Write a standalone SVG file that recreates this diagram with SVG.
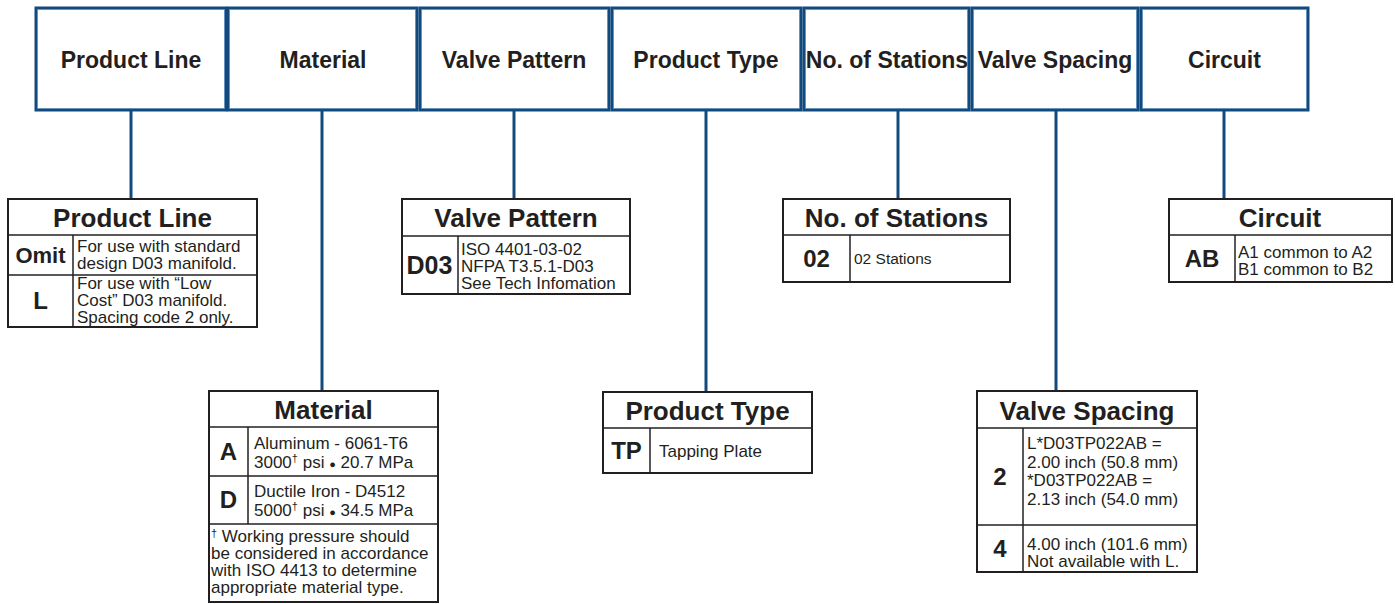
<svg xmlns="http://www.w3.org/2000/svg" width="1395" height="604" viewBox="0 0 1395 604">
<defs>
<style>
text{font-family:"Liberation Sans",Arial,sans-serif;fill:#231f20}
.hb{fill:#fff;stroke:#124a7e;stroke-width:3}
.hi{fill:none;stroke:#5f8fbf;stroke-width:0.8}
.ht{font-size:23px;font-weight:bold;text-anchor:middle}
.bx{fill:#fff;stroke:#231f20;stroke-width:2}
.sep{stroke:#231f20;stroke-width:1.5;fill:none}
.tt{font-size:26px;font-weight:bold;text-anchor:middle}
.cd{font-size:24px;font-weight:bold;text-anchor:middle}
.ds{font-size:17px}
.sup{font-size:11px}
.stem{stroke:#124a7e;stroke-width:3;fill:none}
</style>
</defs>
<rect width="1395" height="604" fill="#fff"/>

<g id="connectors">
<line class="stem" x1="131" y1="110" x2="131" y2="199"/>
<line class="stem" x1="322" y1="110" x2="322" y2="391"/>
<line class="stem" x1="514" y1="110" x2="514" y2="199"/>
<line class="stem" x1="706" y1="110" x2="706" y2="392"/>
<line class="stem" x1="898" y1="110" x2="898" y2="199"/>
<line class="stem" x1="1056" y1="110" x2="1056" y2="391"/>
<line class="stem" x1="1224" y1="110" x2="1224" y2="199"/>
</g>

<g id="h-product-line">
<rect class="hb" x="36" y="8" width="190" height="102"/><rect class="hi" x="37.5" y="9.5" width="187" height="99"/>
<text class="ht" x="131" y="68">Product Line</text>
</g>
<g id="h-material">
<rect class="hb" x="228" y="8" width="189" height="102"/><rect class="hi" x="229.5" y="9.5" width="186" height="99"/>
<text class="ht" x="323" y="68">Material</text>
</g>
<g id="h-valve-pattern">
<rect class="hb" x="420" y="8" width="189" height="102"/><rect class="hi" x="421.5" y="9.5" width="186" height="99"/>
<text class="ht" x="514" y="68">Valve Pattern</text>
</g>
<g id="h-product-type">
<rect class="hb" x="612" y="8" width="189" height="102"/><rect class="hi" x="613.5" y="9.5" width="186" height="99"/>
<text class="ht" x="706" y="68">Product Type</text>
</g>
<g id="h-stations">
<rect class="hb" x="804" y="8" width="165" height="102"/><rect class="hi" x="805.5" y="9.5" width="162" height="99"/>
<text class="ht" x="887" y="68">No. of Stations</text>
</g>
<g id="h-valve-spacing">
<rect class="hb" x="972" y="8" width="166" height="102"/><rect class="hi" x="973.5" y="9.5" width="163" height="99"/>
<text class="ht" x="1055" y="68">Valve Spacing</text>
</g>
<g id="h-circuit">
<rect class="hb" x="1141" y="8" width="167" height="102"/><rect class="hi" x="1142.5" y="9.5" width="164" height="99"/>
<text class="ht" x="1224.5" y="68">Circuit</text>
</g>

<g id="product-line">
<rect class="bx" x="8" y="199" width="249" height="128"/>
<line class="sep" x1="8" y1="235" x2="257" y2="235"/>
<line class="sep" x1="8" y1="275" x2="257" y2="275"/>
<line class="sep" x1="73" y1="235" x2="73" y2="327"/>
<text class="tt" x="132.5" y="227">Product Line</text>
<text class="cd" x="40.5" y="263" style="font-size:22px">Omit</text>
<text class="ds" x="77" y="252">For use with standard</text>
<text class="ds" x="77" y="269">design D03 manifold.</text>
<text class="cd" x="40.5" y="309">L</text>
<text class="ds" x="77" y="289">For use with “Low</text>
<text class="ds" x="77" y="306">Cost” D03 manifold.</text>
<text class="ds" x="77" y="323">Spacing code 2 only.</text>
</g>

<g id="material">
<rect class="bx" x="209" y="391" width="229" height="211"/>
<line class="sep" x1="209" y1="427" x2="438" y2="427"/>
<line class="sep" x1="209" y1="476" x2="438" y2="476"/>
<line class="sep" x1="209" y1="524" x2="438" y2="524"/>
<line class="sep" x1="248" y1="427" x2="248" y2="524"/>
<text class="tt" x="323.5" y="419">Material</text>
<text class="cd" x="228.5" y="460">A</text>
<text class="ds" x="254" y="449">Aluminum - 6061-T6</text>
<text class="ds" x="254" y="468">3000<tspan class="sup" dy="-6">†</tspan><tspan dy="6"> psi </tspan><tspan style="font-size:11px">●</tspan><tspan> 20.7 MPa</tspan></text>
<text class="cd" x="228.5" y="508">D</text>
<text class="ds" x="254" y="497">Ductile Iron - D4512</text>
<text class="ds" x="254" y="516">5000<tspan class="sup" dy="-6">†</tspan><tspan dy="6"> psi </tspan><tspan style="font-size:11px">●</tspan><tspan> 34.5 MPa</tspan></text>
<text class="ds" x="211" y="542"><tspan class="sup" dy="-5">†</tspan><tspan dy="5"> Working pressure should</tspan></text>
<text class="ds" x="211" y="559">be considered in accordance</text>
<text class="ds" x="211" y="576">with ISO 4413 to determine</text>
<text class="ds" x="211" y="593">appropriate material type.</text>
</g>

<g id="valve-pattern">
<rect class="bx" x="402" y="199" width="228" height="95"/>
<line class="sep" x1="402" y1="236" x2="630" y2="236"/>
<line class="sep" x1="458" y1="236" x2="458" y2="294"/>
<text class="tt" x="516" y="227">Valve Pattern</text>
<text class="cd" x="429.5" y="274" style="font-size:25px">D03</text>
<text class="ds" x="461" y="255">ISO 4401-03-02</text>
<text class="ds" x="461" y="272">NFPA T3.5.1-D03</text>
<text class="ds" x="461" y="289">See Tech Infomation</text>
</g>

<g id="product-type">
<rect class="bx" x="603" y="392" width="209" height="81"/>
<line class="sep" x1="603" y1="428" x2="812" y2="428"/>
<line class="sep" x1="650" y1="428" x2="650" y2="473"/>
<text class="tt" x="707.5" y="420">Product Type</text>
<text class="cd" x="626.5" y="459">TP</text>
<text class="ds" x="659" y="457">Tapping Plate</text>
</g>

<g id="stations">
<rect class="bx" x="783" y="199" width="227" height="83"/>
<line class="sep" x1="783" y1="235" x2="1010" y2="235"/>
<line class="sep" x1="850" y1="235" x2="850" y2="282"/>
<text class="tt" x="896.5" y="227">No. of Stations</text>
<text class="cd" x="816.5" y="267">02</text>
<text class="ds" x="854" y="264" style="font-size:15.5px">02 Stations</text>
</g>

<g id="valve-spacing">
<rect class="bx" x="977" y="391" width="220" height="181"/>
<line class="sep" x1="977" y1="428" x2="1197" y2="428"/>
<line class="sep" x1="977" y1="525" x2="1197" y2="525"/>
<line class="sep" x1="1023" y1="428" x2="1023" y2="572"/>
<text class="tt" x="1087" y="420">Valve Spacing</text>
<text class="cd" x="1000" y="485">2</text>
<text class="ds" x="1027" y="449">L*D03TP022AB =</text>
<text class="ds" x="1027" y="467.5">2.00 inch (50.8 mm)</text>
<text class="ds" x="1027" y="486">*D03TP022AB =</text>
<text class="ds" x="1027" y="504.5">2.13 inch (54.0 mm)</text>
<text class="cd" x="1000" y="557">4</text>
<text class="ds" x="1027" y="550">4.00 inch (101.6 mm)</text>
<text class="ds" x="1027" y="567">Not available with L.</text>
</g>

<g id="circuit">
<rect class="bx" x="1169" y="199" width="223" height="83"/>
<line class="sep" x1="1169" y1="235" x2="1392" y2="235"/>
<line class="sep" x1="1235" y1="235" x2="1235" y2="282"/>
<text class="tt" x="1280" y="227">Circuit</text>
<text class="cd" x="1202" y="267">AB</text>
<text class="ds" x="1238" y="258">A1 common to A2</text>
<text class="ds" x="1238" y="275">B1 common to B2</text>
</g>
</svg>
